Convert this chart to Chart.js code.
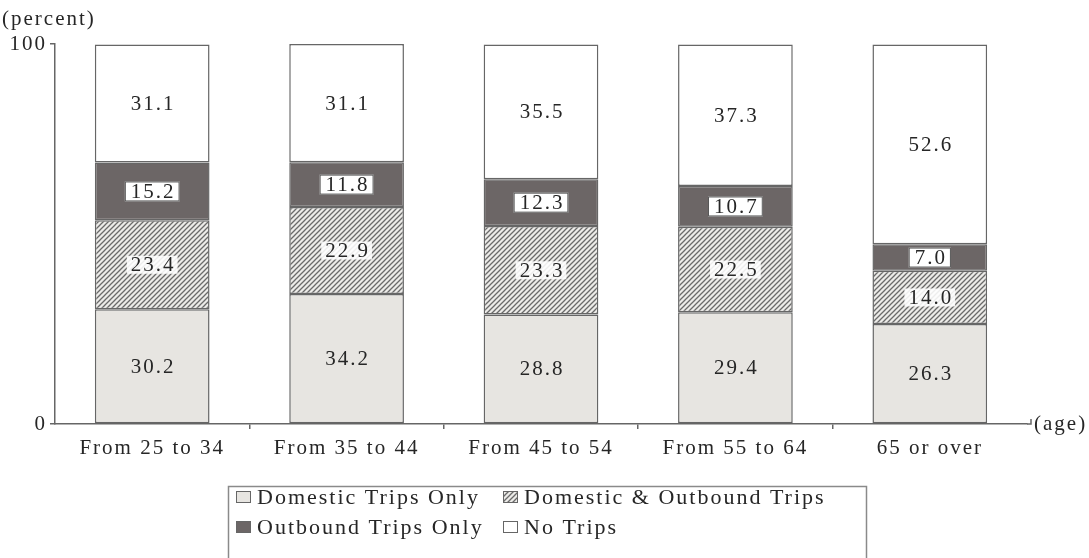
<!DOCTYPE html>
<html>
<head>
<meta charset="utf-8">
<script src="https://cdn.jsdelivr.net/npm/chart.js@4.4.1/dist/chart.umd.min.js"></script>
<style>
  html, body { margin: 0; padding: 0; background: #ffffff; }
  #wrap { width: 1089px; height: 558px; position: relative; }
</style>
</head>
<body>
<div id="wrap"><canvas id="c" width="1089" height="558"></canvas></div>
<script>
// Travel experience by age group (percent of respondents)
const ageGroups = ['From 25 to 34', 'From 35 to 44', 'From 45 to 54', 'From 55 to 64', '65 or over'];
const domesticOnly = [30.2, 34.2, 28.8, 29.4, 26.3];
const domesticAndOutbound = [23.4, 22.9, 23.3, 22.5, 14.0];
const outboundOnly = [15.2, 11.8, 12.3, 10.7, 7.0];
const noTrips = [31.1, 31.1, 35.5, 37.3, 52.6];
const seriesNames = ['Domestic Trips Only', 'Domestic & Outbound Trips', 'Outbound Trips Only', 'No Trips'];
const yTickValues = [0, 100];
const yUnit = '(percent)';
const xUnit = '(age)';

const FONT = '"Liberation Serif", "Times New Roman", serif';
const FONT_SIZE = 21;
const INK = '#262626';
const EDGE = '#666666';
const SPACING = '2px';

const canvas = document.getElementById('c');
const ctx = canvas.getContext('2d');

// diagonal hatch fill
function makeHatch() {
  const s = 5;
  const t = document.createElement('canvas');
  t.width = s; t.height = s;
  const g = t.getContext('2d');
  g.fillStyle = '#ecebe8';
  g.fillRect(0, 0, s, s);
  g.strokeStyle = '#6a6a6a';
  g.lineWidth = 1.3;
  g.beginPath();
  g.moveTo(-1, s + 1); g.lineTo(s + 1, -1);
  g.moveTo(-1, 1); g.lineTo(1, -1);
  g.moveTo(s - 1, s + 1); g.lineTo(s + 1, s - 1);
  g.stroke();
  return ctx.createPattern(t, 'repeat');
}
const hatch = makeHatch();

const fills = ['#e7e5e1', hatch, '#6c6666', '#ffffff'];
const seriesValues = [domesticOnly, domesticAndOutbound, outboundOnly, noTrips];

const datasets = seriesValues.map((vals, i) => ({
  label: seriesNames[i],
  data: vals,
  backgroundColor: fills[i],
  borderColor: EDGE,
  borderWidth: 1.5,
  borderSkipped: false,
  barPercentage: 0.59,
  categoryPercentage: 1.0,
  stack: 'all'
}));

// text spacing for the whole canvas
const spacingPlugin = {
  id: 'spacing',
  beforeDraw(chart) { chart.ctx.letterSpacing = SPACING; }
};

// value labels inside each segment
const valueLabels = {
  id: 'valueLabels',
  afterDatasetsDraw(chart) {
    const c = chart.ctx;
    c.save();
    c.letterSpacing = SPACING;
    c.font = FONT_SIZE + 'px ' + FONT;
    c.textAlign = 'center';
    c.textBaseline = 'middle';
    chart.data.datasets.forEach((ds, di) => {
      const meta = chart.getDatasetMeta(di);
      meta.data.forEach((el, i) => {
        const p = el.getProps(['x', 'y', 'base'], true);
        const cy = (p.y + p.base) / 2;
        const txt = ds.data[i].toFixed(1);
        const w = c.measureText(txt).width;
        if (di === 2) {
          c.fillStyle = '#ffffff';
          c.fillRect(p.x - w / 2 - 5, cy - 10, w + 10, 20);
          c.strokeStyle = '#555555';
          c.lineWidth = 1;
          c.strokeRect(p.x - w / 2 - 5 + 0.5, cy - 10 + 0.5, w + 9, 19);
        } else if (di === 1) {
          c.fillStyle = 'rgba(255,255,255,0.88)';
          c.fillRect(p.x - w / 2 - 3, cy - 9, w + 6, 18);
        }
        c.fillStyle = INK;
        c.fillText(txt, p.x + 1, cy + 1);
      });
    });
    c.restore();
  }
};

// unit captions, axis end mark and legend box
const decorations = {
  id: 'decorations',
  afterDraw(chart) {
    const c = chart.ctx;
    const a = chart.chartArea;
    c.save();
    c.letterSpacing = SPACING;
    c.font = FONT_SIZE + 'px ' + FONT;
    c.fillStyle = INK;
    c.textBaseline = 'middle';
    c.textAlign = 'left';
    c.fillText(yUnit, 2, 19);

    // x axis continues a little past the last category and turns up
    c.strokeStyle = EDGE;
    c.lineWidth = 1.5;
    c.beginPath();
    c.moveTo(a.right, a.bottom);
    c.lineTo(a.right + 4, a.bottom);
    c.lineTo(a.right + 4, a.bottom - 5);
    c.stroke();
    c.fillText(xUnit, a.right + 7, a.bottom);

    // legend
    c.strokeStyle = '#8a8a8a';
    c.lineWidth = 1.5;
    c.strokeRect(228.5, 486.5, 638, 120);
    c.font = '22px ' + FONT;
    c.letterSpacing = '2px';
    const colX = [236, 503];
    const rowY = [497, 527];
    chart.data.datasets.forEach((ds, i) => {
      const x = colX[i % 2];
      const y = rowY[Math.floor(i / 2)];
      c.fillStyle = ds.backgroundColor;
      c.fillRect(x, y - 6, 15, 12);
      c.strokeStyle = '#666666';
      c.lineWidth = 1;
      c.strokeRect(x + 0.5, y - 6 + 0.5, 14, 11);
      c.fillStyle = INK;
      c.fillText(ds.label, x + 21, y + 1);
    });
    c.restore();
  }
};

Chart.defaults.font.family = FONT;
Chart.defaults.font.size = FONT_SIZE;
Chart.defaults.color = INK;

new Chart(canvas, {
  type: 'bar',
  data: { labels: ageGroups, datasets },
  options: {
    responsive: false,
    animation: false,
    devicePixelRatio: 1,
    layout: { padding: { top: 44, left: 0, right: 62, bottom: 94 } },
    plugins: { legend: { display: false }, tooltip: { enabled: false } },
    scales: {
      x: {
        stacked: true,
        afterFit(s) { s.height = 40; },
        grid: {
          drawOnChartArea: false,
          tickLength: 5,
          lineWidth: 1.5,
          color: (g) => (g.index === 0 || g.index === undefined) ? 'rgba(0,0,0,0)' : EDGE
        },
        border: { display: true, color: EDGE, width: 1.5 },
        ticks: { padding: 7, color: INK, font: { size: FONT_SIZE } }
      },
      y: {
        stacked: true,
        min: 0,
        max: 100,
        afterFit(s) { s.width = 55; },
        afterBuildTicks(s) { s.ticks = yTickValues.map(v => ({ value: v })); },
        grid: { drawOnChartArea: false, tickLength: 5, lineWidth: 1.5, color: EDGE },
        border: { display: true, color: EDGE, width: 1.5 },
        ticks: { padding: 3, color: INK, font: { size: FONT_SIZE } }
      }
    }
  },
  plugins: [spacingPlugin, valueLabels, decorations]
});
</script>
</body>
</html>
